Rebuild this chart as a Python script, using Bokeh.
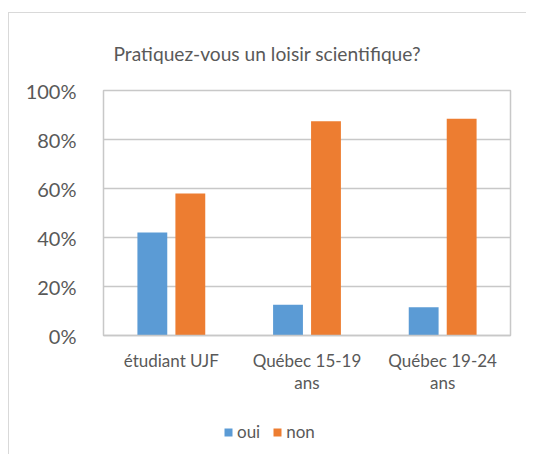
from bokeh.plotting import figure
from bokeh.layouts import column
from bokeh.models import ColumnDataSource, FactorRange, Range1d, NumeralTickFormatter, FixedTicker, Legend, LegendItem
from bokeh.transform import dodge
from bokeh.embed import file_html
from bokeh.resources import INLINE

categories = ["étudiant UJF", "Québec 15-19\nans", "Québec 19-24\nans"]
oui = [0.42, 0.126, 0.115]
non = [0.58, 0.874, 0.885]
y_ticks = [0, 0.2, 0.4, 0.6, 0.8, 1.0]
title_text = "Pratiquez-vous un loisir scientifique?"
series_names = ["oui", "non"]

BLUE = "#5B9BD5"
ORANGE = "#ED7D31"
TXT = "#595959"
GRID = "#c8c8c8"
FONT = "Lato"

src = ColumnDataSource(dict(cat=categories, oui=oui, non=non))

p = figure(
    x_range=FactorRange(*categories),
    y_range=Range1d(0, 1),
    width=517, height=403,
    output_backend="svg", toolbar_location=None,
    min_border_left=94, min_border_right=16, min_border_top=77, min_border_bottom=81,
)

r1 = p.vbar(x=dodge("cat", -0.14, range=p.x_range), top="oui", width=0.22, source=src,
            fill_color=BLUE, line_color=None)
r2 = p.vbar(x=dodge("cat", 0.14, range=p.x_range), top="non", width=0.22, source=src,
            fill_color=ORANGE, line_color=None)

p.title.text = title_text
p.title.align = "left"
p.title.offset = 10
p.title.standoff = 52
p.title.text_font = FONT
p.title.text_font_size = "19.2px"
p.title.text_font_style = "normal"
p.title.text_color = TXT

p.outline_line_color = GRID
p.outline_line_width = 1.5
p.xgrid.grid_line_color = None
p.ygrid.grid_line_color = GRID
p.ygrid.grid_line_width = 1.5

p.yaxis.ticker = FixedTicker(ticks=y_ticks)
p.yaxis.formatter = NumeralTickFormatter(format="0%")
p.yaxis.axis_line_color = None
p.yaxis.major_tick_line_color = None
p.yaxis.minor_tick_line_color = None
p.yaxis.major_tick_out = 0
p.yaxis.major_label_standoff = 27
p.yaxis.major_label_text_font = FONT
p.yaxis.major_label_text_font_size = "20px"
p.yaxis.major_label_text_color = TXT

p.xaxis.axis_line_color = GRID
p.xaxis.axis_line_width = 1.5
p.xaxis.major_tick_line_color = None
p.xaxis.minor_tick_line_color = None
p.xaxis.major_tick_out = 0
p.xaxis.major_label_standoff = 14
p.xaxis.major_label_text_font = FONT
p.xaxis.major_label_text_font_size = "17px"
p.xaxis.major_label_text_line_height = 1.05
p.xaxis.major_label_text_color = TXT

# legend strip below the chart
pl = figure(width=517, height=38, x_range=Range1d(0, 1), y_range=Range1d(0, 1),
            output_backend="svg", toolbar_location=None,
            x_axis_location=None, y_axis_location=None,
            min_border_left=0, min_border_right=0, min_border_top=0, min_border_bottom=0)
pl.outline_line_color = None
pl.xgrid.grid_line_color = None
pl.ygrid.grid_line_color = None
l1 = pl.vbar(x=[0.5], top=[float("nan")], width=0.1, fill_color=BLUE, line_color=None)
l2 = pl.vbar(x=[0.5], top=[float("nan")], width=0.1, fill_color=ORANGE, line_color=None)
legend = Legend(items=[LegendItem(label=series_names[0], renderers=[l1]),
                       LegendItem(label=series_names[1], renderers=[l2])],
                orientation="horizontal", location=(120, 12),
                glyph_width=10, glyph_height=10, label_standoff=4, spacing=12,
                padding=0, margin=0, label_height=20,
                border_line_color=None, background_fill_alpha=0,
                label_text_font=FONT, label_text_font_size="17px", label_text_color=TXT)
pl.add_layout(legend, "center")

layout = column(p, pl)
layout.margin = (12, 0, 0, 8)
layout.styles = {"border-left": "1px solid #d9d9d9", "border-top": "1px solid #d9d9d9"}

open("out.html", "w").write(file_html(layout, INLINE))
